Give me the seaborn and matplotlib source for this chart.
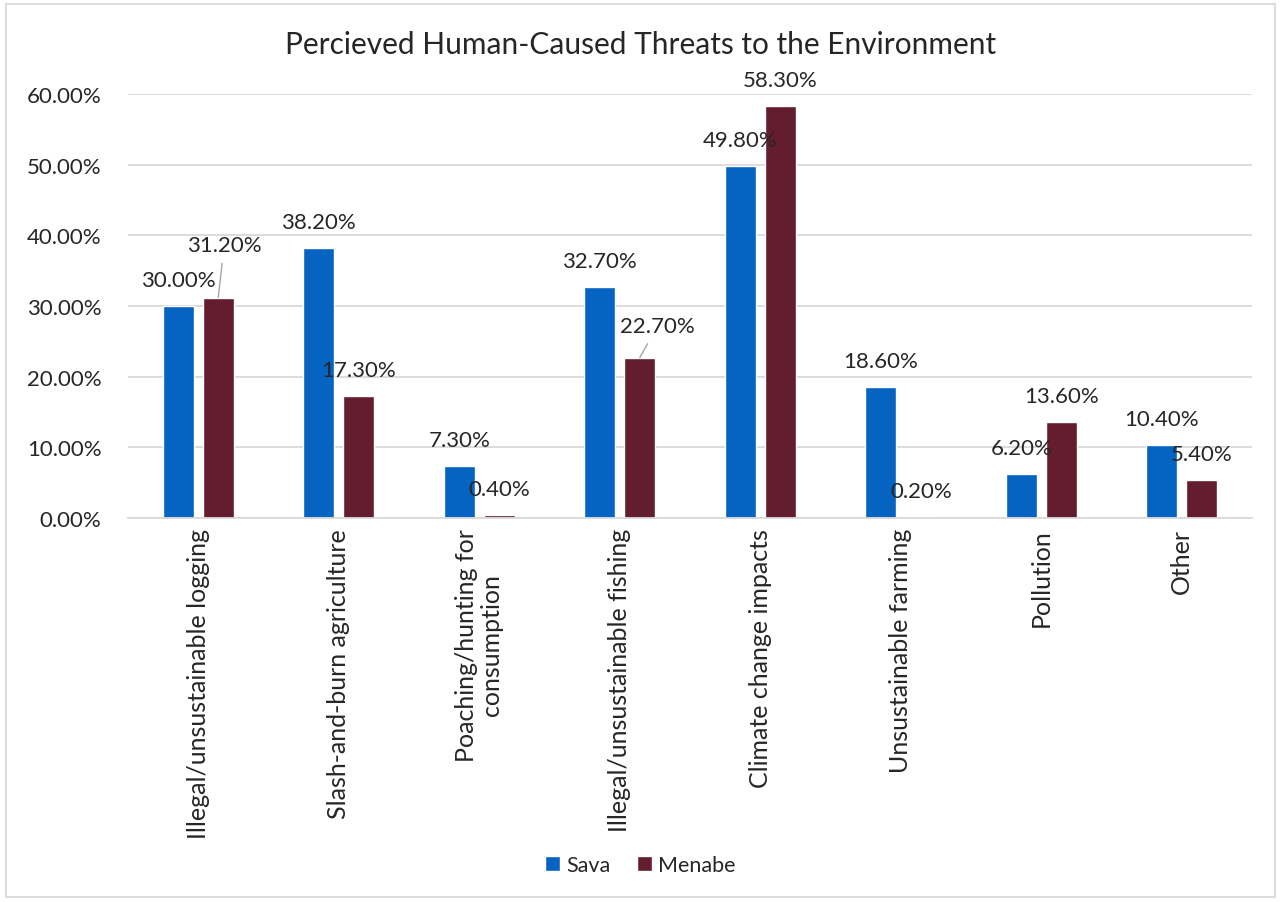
import pandas as pd
import seaborn as sns
import matplotlib.pyplot as plt
from matplotlib.patches import Rectangle

categories = ['Illegal/unsustainable logging', 'Slash-and-burn agriculture',
              'Poaching/hunting for\nconsumption', 'Illegal/unsustainable fishing',
              'Climate change impacts', 'Unsustainable farming', 'Pollution', 'Other']
sava = [0.300, 0.382, 0.073, 0.327, 0.498, 0.186, 0.062, 0.104]
menabe = [0.312, 0.173, 0.004, 0.227, 0.583, 0.002, 0.136, 0.054]
regions = ['Sava', 'Menabe']
colors = ['#0563C1', '#631D2F']
yticks = [0, 0.1, 0.2, 0.3, 0.4, 0.5, 0.6]

data = pd.DataFrame({
    'category': categories * 2,
    'region': ['Sava'] * len(categories) + ['Menabe'] * len(categories),
    'share': sava + menabe,
})

sns.set_style('white')
plt.rcParams['font.family'] = ['Lato', 'DejaVu Sans']

fig = plt.figure(figsize=(12.81, 9.03), dpi=100)
ax = fig.add_axes([0.0999, 0.4252, 0.8775, 0.4696])

sns.barplot(data=data, x='category', y='share', hue='region', hue_order=regions,
            palette=colors, width=0.57, gap=0.23, saturation=1, ax=ax)

ax.set_ylim(0, 0.6)
ax.set_xlim(-0.5, len(categories) - 0.5)
ax.set_yticks(yticks)
ax.set_yticklabels([f'{v * 100:.2f}%' for v in yticks], fontsize=16)
ax.tick_params(axis='y', length=0, pad=19)
ax.tick_params(axis='x', length=0, pad=7, labelsize=18)
plt.setp(ax.get_xticklabels(), rotation=90, ha='center', va='top', linespacing=1.1)
ax.set_xlabel('')
ax.set_ylabel('')
ax.grid(axis='y', color='#D9D9D9', linewidth=1.3)
ax.set_axisbelow(True)
for side in ['left', 'right', 'top']:
    ax.spines[side].set_visible(False)
ax.spines['bottom'].set_color('#D9D9D9')
ax.spines['bottom'].set_linewidth(1.3)

# data labels (offsets in pixels), two of them moved off the bar with a leader line
moved = {('Menabe', 0): (6, 53), ('Menabe', 3): (18, 32)}
for region, cont in zip(regions, ax.containers):
    for i, bar in enumerate(cont):
        x = bar.get_x() + bar.get_width() / 2
        h = bar.get_height()
        dx, dy = moved.get((region, i), (0, 26))
        arrow = None
        if (region, i) in moved:
            arrow = dict(arrowstyle='-', color='#A6A6A6', lw=1, shrinkA=4, shrinkB=0)
        ax.annotate(f'{h * 100:.2f}%', xy=(x, h), xytext=(dx * 0.72, dy * 0.72),
                    textcoords='offset points', ha='center', va='center',
                    fontsize=16, arrowprops=arrow)

fig.text(0.5, 0.950, 'Percieved Human-Caused Threats to the Environment',
         ha='center', va='center', fontsize=21.5)

handles, labels = ax.get_legend_handles_labels()
ax.legend(handles, labels, loc='center', bbox_to_anchor=(0.5, 0.041),
          bbox_transform=fig.transFigure, ncol=2, frameon=False, fontsize=15.5,
          handlelength=0.7, handleheight=0.7, handletextpad=0.3, columnspacing=1.2)

fig.patches.append(Rectangle((0.005, 0.006), 0.99, 0.988, transform=fig.transFigure,
                             fill=False, edgecolor='#D9D9D9', linewidth=1.3))

plt.savefig('out.png', dpi=100)
